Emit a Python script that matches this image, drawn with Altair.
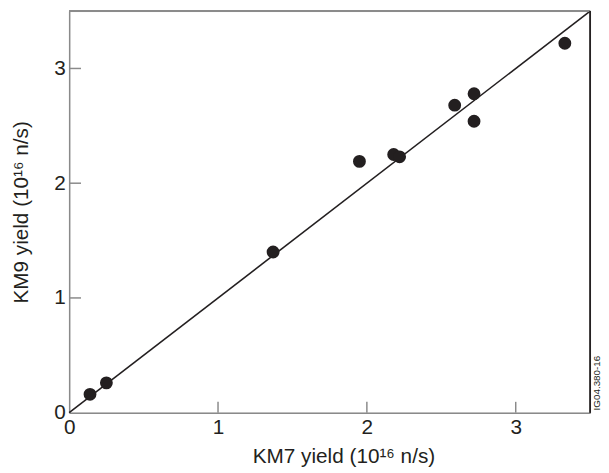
import altair as alt
import pandas as pd

# data
km7 = [0.14, 0.25, 1.37, 1.95, 2.18, 2.22, 2.59, 2.72, 2.72, 3.33]
km9 = [0.16, 0.26, 1.40, 2.19, 2.25, 2.23, 2.68, 2.78, 2.54, 3.22]
line_x = [0.0, 3.5]
line_y = [0.0, 3.5]
tick_vals = [0, 1, 2, 3]
inner_ticks = [1, 2, 3]
stamp = "IG04.380-16"

W, H = 528, 407
FONT = "Liberation Sans"
GRAY = "#8a8a8a"
INK = "#231f20"

pts = pd.DataFrame({"x": km7, "y": km9})
ln = pd.DataFrame({"x": line_x, "y": line_y})
tk = pd.DataFrame({"v": inner_ticks})

xs = alt.Scale(domain=[0, 3.5], nice=False, zero=False)
ys = alt.Scale(domain=[0, 3.5], nice=False, zero=False)

xaxis = alt.Axis(values=tick_vals, format="d", ticks=False, grid=False, domainColor=GRAY, domainWidth=1.5,
                 labelFont=FONT, labelFontSize=21, labelColor=INK, labelPadding=4,
                 labelOverlap=False, labelFlush=False,
                 title="KM7 yield (10¹⁶ n/s)", titleFont=FONT, titleFontSize=21,
                 titleFontWeight="normal", titleColor=INK, titlePadding=8, titleX=278)
yaxis = alt.Axis(values=tick_vals, format="d", ticks=False, grid=False, domainColor=GRAY, domainWidth=1.5,
                 labelFont=FONT, labelFontSize=21, labelColor=INK, labelPadding=4,
                 labelOverlap=False, labelFlush=False,
                 title="KM9 yield (10¹⁶ n/s)", titleFont=FONT, titleFontSize=21,
                 titleFontWeight="normal", titleColor=INK, titlePadding=23)

base_pts = alt.Chart(pts).mark_circle(size=170, color=INK, opacity=1).encode(
    x=alt.X("x:Q", scale=xs, axis=xaxis),
    y=alt.Y("y:Q", scale=ys, axis=yaxis),
)

diag = alt.Chart(ln).mark_line(color=INK, strokeWidth=1.6).encode(
    x=alt.X("x:Q", scale=xs), y=alt.Y("y:Q", scale=ys)
)

xticks = alt.Chart(tk).mark_rule(color=GRAY, strokeWidth=1.5).encode(
    x=alt.X("v:Q", scale=xs), y=alt.value(H), y2=alt.value(H - 11)
)
yticks = alt.Chart(tk).mark_rule(color=GRAY, strokeWidth=1.5).encode(
    y=alt.Y("v:Q", scale=ys), x=alt.value(0), x2=alt.value(12)
)

top = alt.Chart(tk).mark_rule(color=GRAY, strokeWidth=1.5).encode(
    x=alt.value(0), x2=alt.value(W), y=alt.value(0)
)
right = alt.Chart(tk).mark_rule(color=INK, strokeWidth=1.2).encode(
    x=alt.value(W), y=alt.value(0), y2=alt.value(H)
)

stamp_txt = alt.Chart(pd.DataFrame({"t": [stamp]})).mark_text(
    angle=270, font=FONT, fontSize=10, color=INK, align="center", baseline="middle"
).encode(text="t:N", x=alt.value(W + 7), y=alt.value(H - 30))

chart = alt.layer(diag, xticks, yticks, top, right, base_pts, stamp_txt).properties(
    width=W, height=H,
    autosize=alt.AutoSizeParams(type="none"),
    padding={"left": 62, "top": 0, "right": 11, "bottom": 58},
).configure_view(stroke=None).configure(background="white")

chart.save("out.html", embed_options={"renderer": "svg", "actions": False})
